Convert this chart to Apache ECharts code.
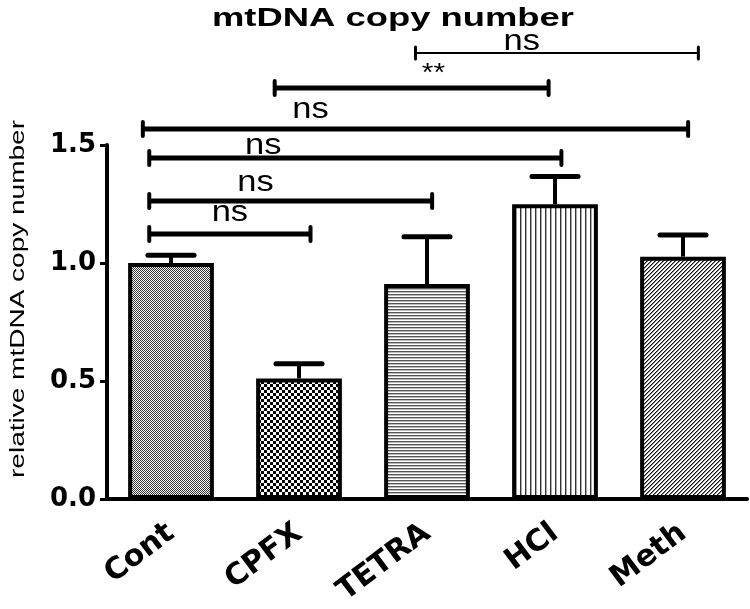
<!DOCTYPE html>
<html>
<head>
<meta charset="utf-8">
<script src="https://cdn.jsdelivr.net/npm/echarts@6/dist/echarts.min.js"></script>
<style>html,body{margin:0;padding:0;background:#fff}#c{width:750px;height:609px}</style>
</head>
<body>
<div id="c"></div>
<script>
// ---- data ----
const categories = ['Cont', 'CPFX', 'TETRA', 'HCl', 'Meth'];
const meanValues = [1.00, 0.511, 0.911, 1.249, 1.027];
const errorValues = [0.033, 0.062, 0.200, 0.117, 0.092];
const yTicks = [0.0, 0.5, 1.0, 1.5];
// significance brackets (x in category units, y in value units)
const sigFrom   = [-0.17, -0.17, -0.17, -0.22, 0.81, 1.91];
const sigTo     = [ 1.09,  2.04,  3.05,  4.04, 2.95, 4.12];
const sigLevel  = [ 1.123, 1.263, 1.445, 1.568, 1.742, 1.89];
const sigLabel  = ['ns', 'ns', 'ns', 'ns', '**', 'ns'];
const sigLabelX = [0.46, 0.66, 0.72, 1.09, 2.05, 2.74];
const sigLabelY = [1.212, 1.339, 1.496, 1.648, 1.800, 1.936];

// ---- patterns ----
function pat(w, h, draw) {
  const c = document.createElement('canvas');
  c.width = w; c.height = h;
  const g = c.getContext('2d');
  g.fillStyle = '#fff'; g.fillRect(0, 0, w, h);
  draw(g);
  return c;
}
const patterns = [
  pat(2, 2, g => { g.fillStyle = '#333'; g.fillRect(0, 0, 1, 1); g.fillRect(1, 1, 1, 1); }),
  pat(6, 6, g => { g.fillStyle = '#000'; g.fillRect(0, 0, 3, 3); g.fillRect(3, 3, 3, 3); }),
  pat(4, 3, g => { g.fillStyle = '#555'; g.fillRect(0, 0, 4, 1); g.fillStyle = '#bbb'; g.fillRect(0, 1, 4, 1); }),
  pat(5, 4, g => { g.fillStyle = '#333'; g.fillRect(0, 0, 1, 4); g.fillStyle = '#aaa'; g.fillRect(1, 0, 1, 4); }),
  pat(4, 4, g => { g.fillStyle = '#111'; g.fillRect(3, 0, 1, 1); g.fillRect(2, 1, 1, 1); g.fillRect(1, 2, 1, 1); g.fillRect(0, 3, 1, 1);
                   g.fillStyle = '#888'; g.fillRect(0, 0, 1, 1); g.fillRect(3, 1, 1, 1); g.fillRect(2, 2, 1, 1); g.fillRect(1, 3, 1, 1); })
];

const textFont = 'Liberation Sans, Arial, sans-serif';
const axisFont = 'DejaVu Sans, sans-serif';

const chart = echarts.init(document.getElementById('c'), null, { renderer: 'canvas' });
const bracketWidths = [5, 5, 5, 5, 5, 2];

chart.setOption({
  animation: false,
  backgroundColor: '#fff',
  grid: { left: 107, right: 3, top: 145, bottom: 110 },
  graphic: [
    { type: 'text', x: 393, y: 19, scaleX: 1.4,
      style: { text: 'mtDNA copy number', fontSize: 26, fontWeight: 'bold', fontFamily: textFont,
               fill: '#000', align: 'center', verticalAlign: 'middle' } },
    { type: 'text', x: 18, y: 299, rotation: Math.PI / 2, scaleX: 1.4,
      style: { text: 'relative mtDNA copy number', fontSize: 20, fontFamily: textFont,
               fill: '#000', align: 'center', verticalAlign: 'middle' } }
  ],
  xAxis: [
    { type: 'category', data: categories,
      axisLine: { lineStyle: { color: '#000', width: 4 } },
      axisTick: { alignWithLabel: true, length: 7, lineStyle: { color: '#000', width: 3 } },
      axisLabel: { rotate: 37, margin: 31, color: '#000', fontSize: 30, fontWeight: 'bold', fontFamily: axisFont },
      splitLine: { show: false } },
    { type: 'value', min: -0.5, max: 4.5, show: false }
  ],
  yAxis: {
    type: 'value', min: 0, max: 1.5, interval: 0.5,
    axisLine: { show: true, onZero: false, lineStyle: { color: '#000', width: 4 } },
    axisTick: { show: true, length: 7, lineStyle: { color: '#000', width: 3 } },
    axisLabel: { margin: 11, color: '#000', fontSize: 26, fontWeight: 'bold', fontFamily: axisFont,
                 formatter: v => yTicks.find(t => Math.abs(t - v) < 1e-9).toFixed(1) },
    splitLine: { show: false }
  },
  series: [
    { type: 'bar', barWidth: '67%',
      data: meanValues.map((v, i) => ({ value: v,
        itemStyle: { color: { image: patterns[i], repeat: 'repeat' }, borderColor: '#000', borderWidth: 4 } })),
      z: 2 },
    { type: 'custom', xAxisIndex: 0, z: 3,
      data: categories.map((c, i) => [i, meanValues[i], errorValues[i]]),
      renderItem: (params, api) => {
        const i = api.value(0), v = api.value(1), e = api.value(2);
        const p0 = api.coord([i, v]);
        const p1 = api.coord([i, v + e]);
        const hw = api.size([1, 0])[0] * 0.18;
        return { type: 'group', children: [
          { type: 'line', shape: { x1: p0[0], y1: p0[1], x2: p1[0], y2: p1[1] }, style: { stroke: '#000', lineWidth: 4 } },
          { type: 'line', shape: { x1: p1[0] - hw, y1: p1[1], x2: p1[0] + hw, y2: p1[1] }, style: { stroke: '#000', lineWidth: 5, lineCap: 'round' } }
        ] };
      } },
    { type: 'custom', xAxisIndex: 1, z: 4, clip: false,
      data: sigFrom.map((f, k) => [f, sigTo[k], sigLevel[k], sigLabelX[k], sigLabelY[k], k]),
      renderItem: (params, api) => {
        const k = api.value(5);
        const a = api.coord([api.value(0), api.value(2)]);
        const b = api.coord([api.value(1), api.value(2)]);
        const l = api.coord([api.value(3), api.value(4)]);
        const w = bracketWidths[k];
        const th = w > 3 ? 7 : 6;
        const isStar = sigLabel[k] === '**';
        return { type: 'group', children: [
          { type: 'line', shape: { x1: a[0], y1: a[1], x2: b[0], y2: b[1] }, style: { stroke: '#000', lineWidth: w } },
          { type: 'line', shape: { x1: a[0], y1: a[1] - th, x2: a[0], y2: a[1] + th }, style: { stroke: '#000', lineWidth: w > 3 ? 4 : 3, lineCap: 'round' } },
          { type: 'line', shape: { x1: b[0], y1: b[1] - th, x2: b[0], y2: b[1] + th }, style: { stroke: '#000', lineWidth: w > 3 ? 4 : 3, lineCap: 'round' } },
          { type: 'text', x: l[0], y: l[1], scaleX: 1.15,
            style: { text: sigLabel[k], fontSize: isStar ? 26 : 30, fontFamily: textFont, fill: '#000',
                     align: 'center', verticalAlign: 'middle' } }
        ] };
      } }
  ]
});
</script>
</body>
</html>
